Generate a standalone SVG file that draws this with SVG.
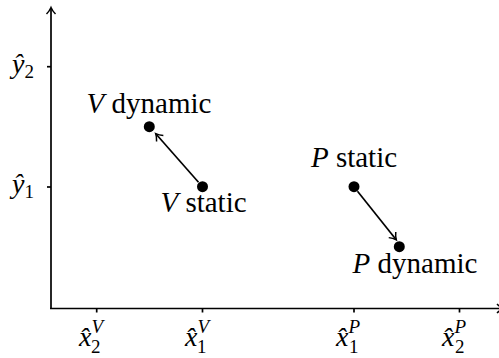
<svg xmlns="http://www.w3.org/2000/svg" width="499" height="358" viewBox="0 0 499 358">
<style>
text{font-family:"Liberation Serif",serif;fill:#000}
.lbl{font-size:29px;text-anchor:middle}
.tk{font-size:28px}
.it{font-style:italic}
.sm{font-size:19px}
.ln{stroke:#000;stroke-width:1.7;fill:none}
</style>
<defs>
<marker id="ah" markerWidth="12" markerHeight="12" refX="9" refY="6" orient="auto" markerUnits="userSpaceOnUse">
<path d="M3,1.5 Q6,4.5 9.5,6 Q6,7.5 3,10.5" fill="none" stroke="#000" stroke-width="1.5"/>
</marker>
</defs>
<g id="axes">
<line class="ln" x1="51" y1="309" x2="51" y2="8" marker-end="url(#ah)"/>
<line class="ln" x1="50" y1="308.5" x2="503" y2="308.5" marker-end="url(#ah)"/>
<line class="ln" x1="47" y1="66.7" x2="51" y2="66.7"/>
<line class="ln" x1="47" y1="187" x2="51" y2="187"/>
<line class="ln" x1="96.7" y1="308" x2="96.7" y2="312.5"/>
<line class="ln" x1="202.5" y1="308" x2="202.5" y2="312.5"/>
<line class="ln" x1="354" y1="308" x2="354" y2="312.5"/>
<line class="ln" x1="459.5" y1="308" x2="459.5" y2="312.5"/>
<text class="tk" x="12" y="73"><tspan class="it">ŷ</tspan><tspan class="sm" dy="5">2</tspan></text>
<text class="tk" x="12" y="193"><tspan class="it">ŷ</tspan><tspan class="sm" dy="5">1</tspan></text>
<text class="tk" x="79" y="346"><tspan class="it">x̂</tspan><tspan class="sm it" dy="-13">V</tspan><tspan class="sm" dx="-12" dy="20">2</tspan></text>
<text class="tk" x="185" y="346"><tspan class="it">x̂</tspan><tspan class="sm it" dy="-13">V</tspan><tspan class="sm" dx="-12" dy="20">1</tspan></text>
<text class="tk" x="336" y="346"><tspan class="it">x̂</tspan><tspan class="sm it" dy="-13">P</tspan><tspan class="sm" dx="-11" dy="20">1</tspan></text>
<text class="tk" x="442" y="346"><tspan class="it">x̂</tspan><tspan class="sm it" dy="-13">P</tspan><tspan class="sm" dx="-11" dy="20">2</tspan></text>
</g>
<g id="v-dynamic">
<circle cx="149.3" cy="126.7" r="5.5"/>
<text class="lbl" x="149" y="113"><tspan class="it">V</tspan> dynamic</text>
</g>
<g id="v-static">
<circle cx="202.5" cy="186.7" r="5.5"/>
<text class="lbl" x="203.5" y="212"><tspan class="it">V</tspan> static</text>
</g>
<g id="p-static">
<circle cx="354" cy="186.7" r="5.5"/>
<text class="lbl" x="354" y="167"><tspan class="it">P</tspan> static</text>
</g>
<g id="p-dynamic">
<circle cx="399.3" cy="246.7" r="5.5"/>
<text class="lbl" x="415" y="273"><tspan class="it">P</tspan> dynamic</text>
</g>
<g id="connectors">
<line class="ln" x1="198.5" y1="182.3" x2="156" y2="134" marker-end="url(#ah)"/>
<line class="ln" x1="357.5" y1="191.3" x2="396" y2="239.5" marker-end="url(#ah)"/>
</g>
</svg>
